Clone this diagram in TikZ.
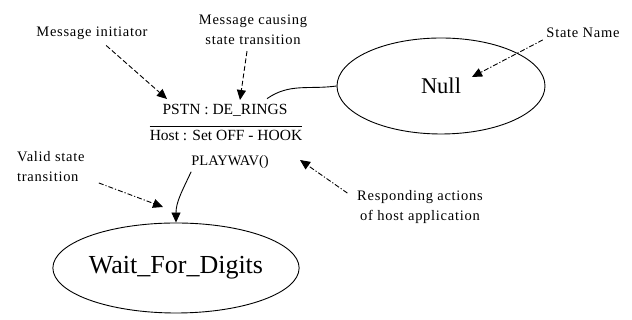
\documentclass[tikz,border=0pt]{standalone}
\usepackage{fontspec}
\setmainfont{Liberation Serif}
\newfontfamily\lblfont[LetterSpace=5]{Liberation Serif}
\usetikzlibrary{arrows.meta,shapes.geometric}
\begin{document}
\begin{tikzpicture}[x=1pt,y=1pt,
  lbl/.style={font=\lblfont\fontsize{14.5}{20}\selectfont, inner sep=0pt},
  msg/.style={font=\fontsize{15.5}{18}\selectfont, inner sep=0pt},
  stnode/.style={draw, ellipse, line width=0.9pt, inner sep=0pt},
  tipped/.style={-{Triangle[length=10pt,width=9pt]}, line width=0.9pt},
  dashln/.style={tipped, dash pattern=on 5pt off 2.5pt},
  dashdot/.style={tipped, dash pattern=on 5pt off 2pt on 1.2pt off 2pt},
  solidln/.style={tipped}]
\useasboundingbox (0,0) rectangle (632,320);
\fill[white] (0,0) rectangle (632,320);

% labels
\node[lbl] (init) at (92,287) {Message initiator};
\node[lbl, align=center] (causing) at (253,290) {Message causing\\state transition};
\node[lbl] (sname) at (583,287) {State Name};
\node[lbl, align=left, anchor=west] (valid) at (17,153) {Valid state\\transition};
\node[lbl, align=center] (resp) at (420,113) {Responding actions\\of host application};

% transition text
\node[msg] (pstn) at (225,210) {PSTN : DE\_RINGS};
\node[msg] (host) at (226,185) {Host : Set OFF - HOOK};
\node[msg, font=\fontsize{14.5}{18}\selectfont] (play) at (230,158) {PLAYWAV()};
\draw[line width=0.9pt] ([yshift=3.5pt]host.north west) -- ([yshift=3.5pt]host.north east);

% states
\node[stnode, minimum width=208pt, minimum height=96pt, font=\fontsize{22.5}{26}\selectfont] (null) at (441,234) {Null};
\node[stnode, minimum width=198pt, minimum height=90pt, font=\fontsize{26}{29}\selectfont] (wait) at (176,52) {Wait\_For\_Digits};

% annotation arrows
\coordinate (t1) at (167,221);
\coordinate (t2) at (240,220);
\coordinate (t3) at (472,243);
\coordinate (t4) at (163,113);
\coordinate (t5) at (300,160);
\draw[dashln, shorten <=9pt] (init) -- (t1);
\draw[dashln] ([xshift=-6pt,yshift=-6pt]causing.south) -- (t2);
\draw[dashdot, shorten <=4pt] (sname.south west) -- (t3);
\draw[dashdot, shorten <=2pt] ([xshift=80pt]valid.south west) -- (t4);
\draw[dashdot, shorten <=2pt] ([xshift=-8pt,yshift=-4pt]resp.north west) -- (t5);

% transition connectors
\draw[line width=0.9pt] ([xshift=42pt,yshift=5pt]pstn.north) to[out=35,in=188] (null.west);
\draw[solidln] ([yshift=-3pt]play.south west) to[out=245,in=90] (wait.north);
\end{tikzpicture}
\end{document}
